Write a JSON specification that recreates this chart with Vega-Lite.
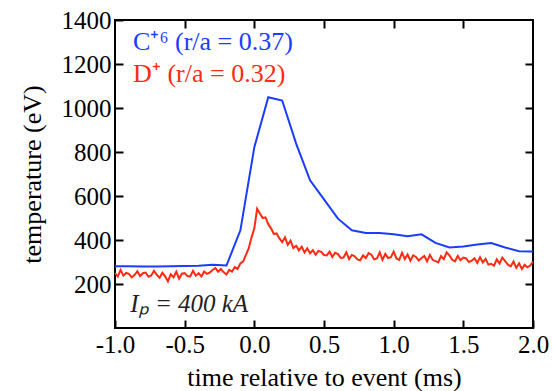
{
  "$schema": "https://vega.github.io/schema/vega-lite/v6.json",
  "autosize": {"type": "none"},
  "width": 418,
  "height": 308,
  "padding": {"left": 115, "top": 20, "right": 20, "bottom": 63},
  "config": {
    "view": {"stroke": "black", "strokeWidth": 2},
    "font": "Liberation Serif"
  },
  "datasets": {
    "carbon": [
      {"t": -1.0, "T": 281}, {"t": -0.9, "T": 281}, {"t": -0.8, "T": 279}, {"t": -0.7, "T": 280},
      {"t": -0.6, "T": 281}, {"t": -0.5, "T": 282}, {"t": -0.4, "T": 283}, {"t": -0.3, "T": 288},
      {"t": -0.2, "T": 284}, {"t": -0.1, "T": 444}, {"t": 0.0, "T": 822}, {"t": 0.1, "T": 1049},
      {"t": 0.2, "T": 1034}, {"t": 0.3, "T": 838}, {"t": 0.4, "T": 671}, {"t": 0.5, "T": 585},
      {"t": 0.6, "T": 497}, {"t": 0.7, "T": 444}, {"t": 0.8, "T": 432}, {"t": 0.9, "T": 432},
      {"t": 1.0, "T": 426}, {"t": 1.1, "T": 417}, {"t": 1.2, "T": 426}, {"t": 1.3, "T": 387},
      {"t": 1.4, "T": 366}, {"t": 1.5, "T": 370}, {"t": 1.6, "T": 380}, {"t": 1.7, "T": 386},
      {"t": 1.8, "T": 366}, {"t": 1.9, "T": 349}, {"t": 2.0, "T": 348}
    ],
    "deuterium": [
      {"t": -1.00, "T": 250}, {"t": -0.98, "T": 234}, {"t": -0.96, "T": 264}, {"t": -0.94, "T": 238},
      {"t": -0.92, "T": 250}, {"t": -0.90, "T": 246}, {"t": -0.88, "T": 230}, {"t": -0.86, "T": 241},
      {"t": -0.84, "T": 258}, {"t": -0.82, "T": 236}, {"t": -0.80, "T": 249}, {"t": -0.78, "T": 252},
      {"t": -0.76, "T": 233}, {"t": -0.74, "T": 239}, {"t": -0.72, "T": 260}, {"t": -0.70, "T": 242},
      {"t": -0.68, "T": 228}, {"t": -0.66, "T": 251}, {"t": -0.64, "T": 235}, {"t": -0.62, "T": 212},
      {"t": -0.60, "T": 244}, {"t": -0.58, "T": 231}, {"t": -0.56, "T": 256}, {"t": -0.54, "T": 224},
      {"t": -0.52, "T": 247}, {"t": -0.50, "T": 250}, {"t": -0.48, "T": 236}, {"t": -0.46, "T": 234},
      {"t": -0.44, "T": 260}, {"t": -0.42, "T": 238}, {"t": -0.40, "T": 249}, {"t": -0.38, "T": 234},
      {"t": -0.36, "T": 257}, {"t": -0.34, "T": 246}, {"t": -0.32, "T": 252}, {"t": -0.30, "T": 264},
      {"t": -0.28, "T": 272}, {"t": -0.26, "T": 256}, {"t": -0.24, "T": 268}, {"t": -0.22, "T": 253},
      {"t": -0.20, "T": 243}, {"t": -0.18, "T": 264}, {"t": -0.16, "T": 256}, {"t": -0.14, "T": 277},
      {"t": -0.12, "T": 268}, {"t": -0.10, "T": 294}, {"t": -0.08, "T": 303}, {"t": -0.06, "T": 332},
      {"t": -0.04, "T": 363}, {"t": -0.02, "T": 412}, {"t": 0.00, "T": 453}, {"t": 0.02, "T": 542},
      {"t": 0.04, "T": 520}, {"t": 0.06, "T": 500}, {"t": 0.08, "T": 503}, {"t": 0.10, "T": 472},
      {"t": 0.12, "T": 453}, {"t": 0.14, "T": 427}, {"t": 0.16, "T": 430}, {"t": 0.18, "T": 407},
      {"t": 0.20, "T": 390}, {"t": 0.22, "T": 412}, {"t": 0.24, "T": 378}, {"t": 0.26, "T": 397},
      {"t": 0.28, "T": 363}, {"t": 0.30, "T": 374}, {"t": 0.32, "T": 353}, {"t": 0.34, "T": 370},
      {"t": 0.36, "T": 343}, {"t": 0.38, "T": 362}, {"t": 0.40, "T": 340}, {"t": 0.42, "T": 354},
      {"t": 0.44, "T": 333}, {"t": 0.46, "T": 350}, {"t": 0.48, "T": 346}, {"t": 0.50, "T": 332},
      {"t": 0.52, "T": 330}, {"t": 0.54, "T": 347}, {"t": 0.56, "T": 323}, {"t": 0.58, "T": 342},
      {"t": 0.60, "T": 336}, {"t": 0.62, "T": 318}, {"t": 0.64, "T": 320}, {"t": 0.66, "T": 344},
      {"t": 0.68, "T": 313}, {"t": 0.70, "T": 332}, {"t": 0.72, "T": 326}, {"t": 0.74, "T": 312},
      {"t": 0.76, "T": 308}, {"t": 0.78, "T": 330}, {"t": 0.80, "T": 318}, {"t": 0.82, "T": 340},
      {"t": 0.84, "T": 333}, {"t": 0.86, "T": 312}, {"t": 0.88, "T": 316}, {"t": 0.90, "T": 344},
      {"t": 0.92, "T": 310}, {"t": 0.94, "T": 337}, {"t": 0.96, "T": 318}, {"t": 0.98, "T": 322},
      {"t": 1.00, "T": 347}, {"t": 1.02, "T": 316}, {"t": 1.04, "T": 310}, {"t": 1.06, "T": 342},
      {"t": 1.08, "T": 313}, {"t": 1.10, "T": 334}, {"t": 1.12, "T": 306}, {"t": 1.14, "T": 330},
      {"t": 1.16, "T": 323}, {"t": 1.18, "T": 307}, {"t": 1.20, "T": 318}, {"t": 1.22, "T": 327},
      {"t": 1.24, "T": 303}, {"t": 1.26, "T": 332}, {"t": 1.28, "T": 310}, {"t": 1.30, "T": 304},
      {"t": 1.32, "T": 298}, {"t": 1.34, "T": 327}, {"t": 1.36, "T": 313}, {"t": 1.38, "T": 344},
      {"t": 1.40, "T": 330}, {"t": 1.42, "T": 310}, {"t": 1.44, "T": 303}, {"t": 1.46, "T": 327},
      {"t": 1.48, "T": 308}, {"t": 1.50, "T": 320}, {"t": 1.52, "T": 316}, {"t": 1.54, "T": 300},
      {"t": 1.56, "T": 306}, {"t": 1.58, "T": 317}, {"t": 1.60, "T": 296}, {"t": 1.62, "T": 322},
      {"t": 1.64, "T": 298}, {"t": 1.66, "T": 314}, {"t": 1.68, "T": 288}, {"t": 1.70, "T": 292},
      {"t": 1.72, "T": 283}, {"t": 1.74, "T": 312}, {"t": 1.76, "T": 293}, {"t": 1.78, "T": 320},
      {"t": 1.80, "T": 304}, {"t": 1.82, "T": 288}, {"t": 1.84, "T": 280}, {"t": 1.86, "T": 302},
      {"t": 1.88, "T": 273}, {"t": 1.90, "T": 294}, {"t": 1.92, "T": 268}, {"t": 1.94, "T": 287},
      {"t": 1.96, "T": 276}, {"t": 1.98, "T": 284}, {"t": 2.00, "T": 302}
    ],
    "labels": [
      {"t": -0.87, "T": 1262, "label": "C⁺⁶ (r/a = 0.37)", "series": "C"},
      {"t": -0.87, "T": 1117, "label": "D⁺ (r/a = 0.32)", "series": "D"}
    ],
    "note": [
      {"t": -0.89, "T": 75, "label": "Iₚ = 400 kA"}
    ]
  },
  "resolve": {"axis": {"x": "independent", "y": "independent"}},
  "layer": [
    {
      "data": {"name": "deuterium"},
      "mark": {"type": "line", "color": "#ff2a12", "strokeWidth": 2},
      "encoding": {
        "x": {"field": "t", "type": "quantitative", "scale": {"domain": [-1, 2], "nice": false},
          "axis": {"orient": "bottom", "title": "time relative to event (ms)", "values": [-1, -0.5, 0, 0.5, 1, 1.5, 2],
            "labelExpr": "(datum.value < 0 ? '-' : '') + format(abs(datum.value), '.1f')",
            "domain": false, "ticks": true, "tickSize": -8, "tickWidth": 2, "tickColor": "black", "labelPadding": 12,
            "labelFont": "Liberation Serif", "labelFontSize": 25, "labelColor": "black",
            "titleFont": "Liberation Serif", "titleFontSize": 26, "titleFontWeight": "normal", "titleColor": "black", "titlePadding": 7, "grid": false, "labelFlush": false}},
        "y": {"field": "T", "type": "quantitative", "scale": {"domain": [0, 1400], "nice": false},
          "axis": {"orient": "left", "title": "temperature (eV)", "values": [200, 400, 600, 800, 1000, 1200, 1400], "format": "d",
            "domain": false, "ticks": true, "tickSize": -8, "tickWidth": 2, "tickColor": "black", "labelPadding": 12,
            "labelFont": "Liberation Serif", "labelFontSize": 25, "labelColor": "black",
            "titleFont": "Liberation Serif", "titleFontSize": 26, "titleFontWeight": "normal", "titleColor": "black", "titlePadding": 16, "grid": false, "labelFlush": false}}
      }
    },
    {
      "data": {"name": "carbon"},
      "mark": {"type": "line", "color": "#1a3cff", "strokeWidth": 2},
      "encoding": {
        "x": {"field": "t", "type": "quantitative",
          "axis": {"orient": "top", "title": null, "labels": false, "values": [-0.5, 0, 0.5, 1, 1.5],
            "domain": false, "tickSize": -8, "tickWidth": 2, "tickColor": "black", "grid": false}},
        "y": {"field": "T", "type": "quantitative",
          "axis": {"orient": "right", "title": null, "labels": false, "values": [200, 400, 600, 800, 1000, 1200],
            "domain": false, "tickSize": -8, "tickWidth": 2, "tickColor": "black", "grid": false}}
      }
    },
    {
      "data": {"name": "labels"},
      "mark": {"type": "text", "align": "left", "baseline": "alphabetic", "fontSize": 26, "font": "Liberation Serif"},
      "encoding": {
        "x": {"field": "t", "type": "quantitative", "axis": null},
        "y": {"field": "T", "type": "quantitative", "axis": null},
        "text": {"field": "label"},
        "color": {"field": "series", "type": "nominal", "scale": {"domain": ["C", "D"], "range": ["#1a3cff", "#ff2a12"]}, "legend": null}
      }
    },
    {
      "data": {"name": "note"},
      "mark": {"type": "text", "align": "left", "baseline": "alphabetic", "fontSize": 25, "fontStyle": "italic", "font": "Liberation Serif", "color": "#222222"},
      "encoding": {
        "x": {"field": "t", "type": "quantitative", "axis": null},
        "y": {"field": "T", "type": "quantitative", "axis": null},
        "text": {"field": "label"}
      }
    }
  ]
}
